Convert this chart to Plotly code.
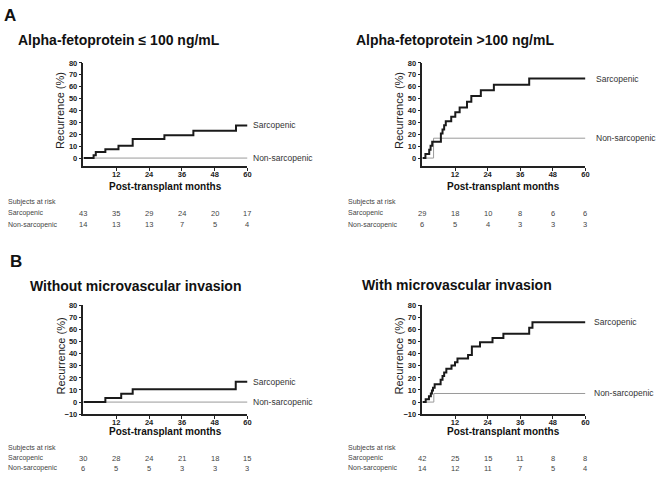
import plotly.graph_objects as go

W, H = 660, 482

# ---------------- data ----------------
risk_months = [0, 12, 24, 36, 48, 60]
x_ticks = [12, 24, 36, 48, 60]

# Panel A left: Alpha-fetoprotein <= 100 ng/mL
afp_low_sarc_t = [0, 3.7, 4.5, 8, 12.8, 18, 29.6, 40.2, 55.8, 60]
afp_low_sarc_v = [0, 2.3, 5.2, 7.4, 10.4, 16.1, 19.2, 23.0, 27.4, 27.4]
afp_low_non_t = [0, 60]
afp_low_non_v = [0, 0]
afp_low_risk_sarc = [43, 35, 29, 24, 20, 17]
afp_low_risk_non = [14, 13, 13, 7, 5, 4]

# Panel A right: Alpha-fetoprotein > 100 ng/mL
afp_high_sarc_t = [0, 1.1, 2.5, 3.0, 3.6, 6.8, 7.4, 8.0, 8.6, 10.6, 12.1, 13.7,
                   16.4, 18.0, 21.5, 26.3, 39.3, 60]
afp_high_sarc_v = [0, 3.4, 6.9, 10.3, 13.8, 20.7, 24.1, 27.6, 31.0, 34.8, 38.6, 42.5,
                   47.3, 52.1, 56.9, 61.7, 66.8, 66.8]
afp_high_non_t = [0, 4.1, 60]
afp_high_non_v = [0, 16.7, 16.7]
afp_high_risk_sarc = [29, 18, 10, 8, 6, 6]
afp_high_risk_non = [6, 5, 4, 3, 3, 3]

# Panel B left: Without microvascular invasion
mvi_no_sarc_t = [0, 8, 13.8, 18, 55.7, 60]
mvi_no_sarc_v = [0, 3.3, 6.9, 10.7, 16.8, 16.8]
mvi_no_non_t = [0, 60]
mvi_no_non_v = [0, 0]
mvi_no_risk_sarc = [30, 28, 24, 21, 18, 15]
mvi_no_risk_non = [6, 5, 5, 3, 3, 3]

# Panel B right: With microvascular invasion
mvi_yes_sarc_t = [0, 1.2, 2.4, 3.1, 3.5, 3.9, 4.5, 6.7, 7.4, 8.0, 8.8, 10.7, 12.0,
                  12.9, 16.8, 18.2, 21.2, 25.8, 29.8, 39.3, 40.5, 60]
mvi_yes_sarc_v = [0, 2.4, 4.8, 7.1, 9.5, 11.9, 14.8, 18.5, 21.5, 24.5, 27.5, 30.2, 33.0,
                  36.0, 39.0, 46.0, 49.5, 53.0, 56.5, 61.5, 66.0, 66.0]
mvi_yes_non_t = [0, 4.2, 60]
mvi_yes_non_v = [0, 7.1, 7.1]
mvi_yes_risk_sarc = [42, 25, 15, 11, 8, 8]
mvi_yes_risk_non = [14, 12, 11, 7, 5, 4]

titles = ["Alpha-fetoprotein \u2264 100 ng/mL", "Alpha-fetoprotein >100 ng/mL",
          "Without microvascular invasion", "With microvascular invasion"]
series_names = ["Sarcopenic", "Non-sarcopenic"]

# ---------------- layout helpers ----------------
FONT = "Liberation Sans, Arial, Helvetica, sans-serif"

def px_x(p):
    return p / W

def px_y(p):
    return 1 - p / H

panels = [
    dict(sarc=(afp_low_sarc_t, afp_low_sarc_v), non=(afp_low_non_t, afp_low_non_v),
         risk=(afp_low_risk_sarc, afp_low_risk_non), title=titles[0],
         xd=(84, 249), yd=(60, 165), yr=[-6.6, 80], yt=[0, 10, 20, 30, 40, 50, 60, 70, 80],
         title_xy=(16, 37), ytitle_x=61, lab_x=6, risk_y=(202, 213, 225), xt_y=186, lshift=4),
    dict(sarc=(afp_high_sarc_t, afp_high_sarc_v), non=(afp_high_non_t, afp_high_non_v),
         risk=(afp_high_risk_sarc, afp_high_risk_non), title=titles[1],
         xd=(425, 589), yd=(60, 165), yr=[-6.6, 80], yt=[0, 10, 20, 30, 40, 50, 60, 70, 80],
         title_xy=(356, 37), ytitle_x=402, lab_x=348, risk_y=(202, 213, 225), xt_y=186, lshift=9),
    dict(sarc=(mvi_no_sarc_t, mvi_no_sarc_v), non=(mvi_no_non_t, mvi_no_non_v),
         risk=(mvi_no_risk_sarc, mvi_no_risk_non), title=titles[2],
         xd=(84, 249), yd=(307, 418), yr=[-10, 80], yt=[-10, 0, 10, 20, 30, 40, 50, 60, 70, 80],
         title_xy=(28, 287), ytitle_x=61, lab_x=6, risk_y=(452, 463, 473), xt_y=436, lshift=4),
    dict(sarc=(mvi_yes_sarc_t, mvi_yes_sarc_v), non=(mvi_yes_non_t, mvi_yes_non_v),
         risk=(mvi_yes_risk_sarc, mvi_yes_risk_non), title=titles[3],
         xd=(425, 589), yd=(307, 418), yr=[-10, 80], yt=[-10, 0, 10, 20, 30, 40, 50, 60, 70, 80],
         title_xy=(362, 286), ytitle_x=401, lab_x=348, risk_y=(452, 463, 473), xt_y=436, lshift=7),
]

fig = go.Figure()
annotations = []
layout_axes = {}

for i, p in enumerate(panels, start=1):
    xa = "x" if i == 1 else f"x{i}"
    ya = "y" if i == 1 else f"y{i}"
    xkey = "xaxis" if i == 1 else f"xaxis{i}"
    ykey = "yaxis" if i == 1 else f"yaxis{i}"

    # non-sarcopenic (grey thin) first, sarcopenic on top
    fig.add_trace(go.Scatter(x=p["non"][0], y=p["non"][1], mode="lines",
                             line=dict(shape="hv", color="#9a9a9a", width=1),
                             xaxis=xa, yaxis=ya, showlegend=False, cliponaxis=False))
    fig.add_trace(go.Scatter(x=p["sarc"][0], y=p["sarc"][1], mode="lines",
                             line=dict(shape="hv", color="#1a1a1a", width=2),
                             xaxis=xa, yaxis=ya, showlegend=False, cliponaxis=False))

    layout_axes[xkey] = dict(domain=[px_x(p["xd"][0]), px_x(p["xd"][1])], anchor=ya,
                             range=[0, 60], tickvals=x_ticks, ticks="outside", ticklen=3,
                             tickwidth=1.2, tickcolor="#222", showline=True, linecolor="#222",
                             linewidth=1.5, showgrid=False, zeroline=False,
                             ticklabelstandoff=-3,
                             tickfont=dict(family=FONT, size=7.5, color="#222", weight="bold"))
    layout_axes[ykey] = dict(domain=[px_y(p["yd"][1]), px_y(p["yd"][0])], anchor=xa,
                             range=p["yr"], tickvals=p["yt"], ticks="outside", ticklen=3,
                             tickwidth=1.2, tickcolor="#222", showline=True, linecolor="#222",
                             linewidth=1.5, showgrid=False, zeroline=False,
                             tickfont=dict(family=FONT, size=7.5, color="#222", weight="bold"))

    # panel title
    annotations.append(dict(text=p["title"], x=px_x(p["title_xy"][0]), y=px_y(p["title_xy"][1]),
                            xref="paper", yref="paper", xanchor="left", yanchor="middle",
                            showarrow=False,
                            font=dict(family=FONT, size=14, color="#111", weight="bold")))
    # y-axis title
    yc = (p["yd"][0] + p["yd"][1]) / 2 - 4
    annotations.append(dict(text="Recurrence (%)", x=px_x(p["ytitle_x"]), y=px_y(yc),
                            xref="paper", yref="paper", xanchor="center", yanchor="middle",
                            textangle=-90, showarrow=False,
                            font=dict(family=FONT, size=11, color="#222")))
    # x-axis title
    annotations.append(dict(text="Post-transplant months", x=30, y=px_y(p["xt_y"]),
                            xref=xa, yref="paper", xanchor="center", yanchor="middle",
                            showarrow=False,
                            font=dict(family=FONT, size=10, color="#111", weight="bold")))
    # series labels at line ends
    annotations.append(dict(text=series_names[0], x=60, y=p["sarc"][1][-1], xref=xa, yref=ya,
                            xanchor="left", yanchor="middle", xshift=p["lshift"], showarrow=False,
                            font=dict(family=FONT, size=8.5, color="#333")))
    annotations.append(dict(text=series_names[1], x=60, y=p["non"][1][-1], xref=xa, yref=ya,
                            xanchor="left", yanchor="middle", xshift=p["lshift"], showarrow=False,
                            font=dict(family=FONT, size=8.5, color="#333")))
    # risk table
    ry = p["risk_y"]
    for txt, yy in [("Subjects at risk", ry[0]), ("Sarcopenic", ry[1]), ("Non-sarcopenic", ry[2])]:
        annotations.append(dict(text=txt, x=px_x(p["lab_x"]), y=px_y(yy), xref="paper",
                                yref="paper", xanchor="left", yanchor="middle", showarrow=False,
                                font=dict(family=FONT, size=7, color="#444")))
    for row, yy in zip(p["risk"], ry[1:]):
        for m, n in zip(risk_months, row):
            annotations.append(dict(text=str(n), x=m, y=px_y(yy), xref=xa, yref="paper",
                                    xanchor="center", yanchor="middle", showarrow=False,
                                    font=dict(family=FONT, size=7.5, color="#444")))

# panel letters
annotations.append(dict(text="A", x=px_x(2), y=px_y(12), xref="paper", yref="paper",
                        xanchor="left", yanchor="middle", showarrow=False,
                        font=dict(family=FONT, size=17, color="#111", weight="bold")))
annotations.append(dict(text="B", x=px_x(8), y=px_y(262), xref="paper", yref="paper",
                        xanchor="left", yanchor="middle", showarrow=False,
                        font=dict(family=FONT, size=17, color="#111", weight="bold")))

fig.update_layout(width=W, height=H, margin=dict(l=0, r=0, t=0, b=0),
                  paper_bgcolor="white", plot_bgcolor="white", showlegend=False,
                  annotations=annotations, **layout_axes)

fig.write_html("out.html", config={"displayModeBar": False},
               post_script="document.body.style.margin='0';document.body.style.padding='0';")
